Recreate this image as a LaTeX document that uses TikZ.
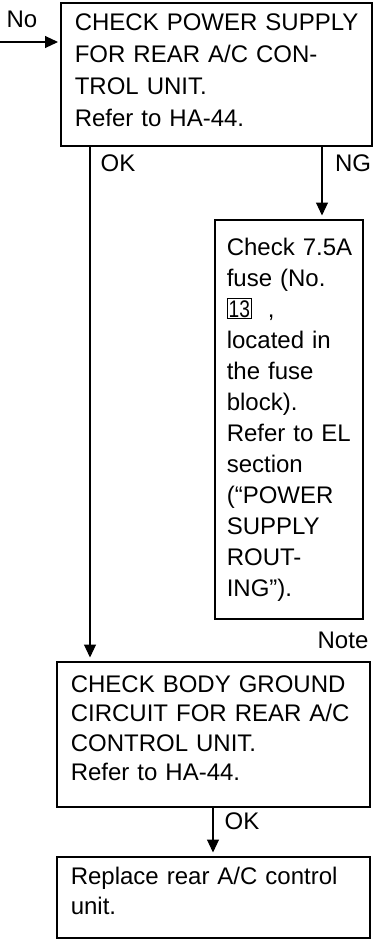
\documentclass[tikz,border=0pt]{standalone}
\usepackage{fontspec}
\setmainfont{Liberation Sans}
\usepackage{graphicx}
\usetikzlibrary{arrows.meta, positioning, calc}

\newcommand{\fusebox}[1]{{\setlength{\fboxsep}{1pt}\setlength{\fboxrule}{0.9pt}\fbox{\scalebox{0.8}[1]{#1}}}}
\newcommand{\padlow}[1]{\rule[-#1]{0pt}{#1}}

\begin{document}
\begin{tikzpicture}[
    x=1pt, y=-1pt,
    >={Triangle[length=13pt, width=12pt]},
    every node/.style={font=\fontsize{24}{30}\selectfont},
    stepbox/.style={draw, line width=1.6pt, anchor=north west, inner xsep=14pt, inner ysep=0pt, align=left},
    flow/.style={draw, line width=1.1pt, ->, shorten >=3.5pt},
    tag/.style={inner sep=0pt}
]

    \useasboundingbox (0,0) rectangle (376,940);

    % Place boxes
    \node[stepbox, text width=283pt, minimum width=311pt, minimum height=143pt,
          font=\fontsize{24}{32}\selectfont] (power) at (60,2)
        {\mbox{CHECK POWER SUPPLY}\\FOR REAR A/C CON-\\TROL UNIT.\\Refer to HA-44.\padlow{8pt}};
    \node[stepbox, inner xsep=12pt, text width=124pt, minimum width=148pt, minimum height=399pt,
          font=\fontsize{24}{31}\selectfont] (fuse) at (214,219)
        {\mbox{Check 7.5A}\\fuse (No.\\\fusebox{13}\ \ ,\\located in\\the fuse\\block).\\\mbox{Refer to EL}\\section\\(“POWER\\SUPPLY\\ROUT-\\ING”).};
    \node[stepbox, text width=285pt, minimum width=313pt, minimum height=145pt,
          font=\fontsize{24}{29.5}\selectfont] (ground) at (56,661)
        {CHECK BODY GROUND\\CIRCUIT FOR REAR A/C\\CONTROL UNIT.\\Refer to HA-44.\padlow{12pt}};
    \node[stepbox, text width=285pt, minimum width=313pt, minimum height=81pt] (replace) at (56,856)
        {Replace rear A/C control\\unit.\padlow{14pt}};

    % Columns of the connectors
    \coordinate (noin) at (0,42);
    \coordinate (okcol) at (90,0);
    \coordinate (ngcol) at (322,0);
    \coordinate (okcolb) at (213,0);

    % Connectors
    \draw[flow, shorten >=2pt] (noin) -- (noin -| power.west);
    \draw[flow] (power.south -| okcol) -- (ground.north -| okcol);
    \draw[flow] (power.south -| ngcol) -- (fuse.north -| ngcol);
    \draw[flow] (ground.south -| okcolb) -- (replace.north -| okcolb);

    % Labels
    \node[tag] (nolbl) at (22,19) {No};
    \node[tag] (oklbl) at (118,163) {OK};
    \node[tag] (nglbl) at (353,163) {NG};
    \node[tag] (notelbl) at (343,640) {Note};
    \node[tag] (oklblb) at (242,821) {OK};

\end{tikzpicture}
\end{document}
